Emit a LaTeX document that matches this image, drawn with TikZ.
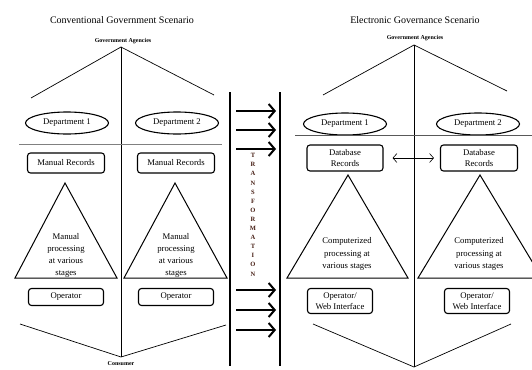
\documentclass[tikz,border=0pt]{standalone}
\usepackage{fontspec}
\setmainfont{Liberation Serif}
\usetikzlibrary{arrows.meta,shapes.geometric}
\definecolor{tbrown}{RGB}{70,30,20}
\begin{document}
\begin{tikzpicture}[x=1pt,y=-1pt,
  line/.style={draw=black, line width=0.7pt},
  dept/.style={draw, ellipse, line width=1.1pt, minimum width=83pt, minimum height=22pt, inner sep=0pt, font=\fontsize{8.7}{10}\selectfont},
  recbox/.style={draw, rounded corners=3pt, line width=1.1pt, inner sep=0pt, align=center, font=\fontsize{8.7}{10}\selectfont},
  tri/.style={draw, line width=1pt},
  tritext/.style={align=center, font=\fontsize{8.7}{12}\selectfont},
  title/.style={font=\fontsize{10}{12}\selectfont},
  agency/.style={font=\bfseries\fontsize{6}{7}\selectfont},
  bigarrow/.style={line width=2.4pt, -{Straight Barb[length=6pt, width=14pt, line width=2pt]}},
]
\useasboundingbox (0,0) rectangle (532,369);
\clip (0,0) rectangle (532,369);

% ---------- Left panel ----------
\node[title] (t1) at (122,20) {Conventional Government Scenario};
\node[agency] (ga1) at (123,41) {Government Agencies};
\coordinate (a1) at (121,47);
\coordinate (a1l) at (31,98);
\coordinate (a1r) at (214,95);
\coordinate (b1) at (121,357);
\coordinate (b1l) at (20,324);
\coordinate (b1r) at (226,325);
\draw[line] (a1l) -- (a1) -- (a1r);
\draw[line] (a1) -- (b1);
\draw[line] (b1l) -- (b1) -- (b1r);
\node[font=\bfseries\fontsize{6}{7}\selectfont] (cons) at (121,364) {Consumer};

\node[dept] (d1) at (67,123) {Department 1};
\node[dept] (d2) at (177,123) {Department 2};
\coordinate (g1l) at (19,144);
\coordinate (g1r) at (222,144);
\draw[gray, line width=1pt] (g1l) -- (g1r);

\node[recbox, minimum width=77pt, minimum height=20pt] (m1) at (66,163) {Manual Records};
\node[recbox, minimum width=77pt, minimum height=20pt] (m2) at (176,163) {Manual Records};

\coordinate (p1a) at (65,183); \coordinate (p1l) at (15,278); \coordinate (p1r) at (117,278);
\coordinate (p2a) at (175,183); \coordinate (p2l) at (124,278); \coordinate (p2r) at (227,278);
\draw[tri] (p1a) -- (p1l) -- (p1r) -- cycle;
\draw[tri] (p2a) -- (p2l) -- (p2r) -- cycle;
\node[tritext] (pt1) at (66,255) {Manual\\processing\\at various\\stages};
\node[tritext] (pt2) at (176,255) {Manual\\processing\\at various\\stages};

\node[recbox, minimum width=75pt, minimum height=17pt] (o1) at (66,297) {Operator};
\node[recbox, minimum width=75pt, minimum height=17pt] (o2) at (176,297) {Operator};

% ---------- Middle ----------
\coordinate (vl1) at (230,92); \coordinate (vl2) at (230,366);
\coordinate (vr1) at (280,92); \coordinate (vr2) at (280,366);
\draw[line width=1.5pt] (vl1) -- (vl2);
\draw[line width=1.5pt] (vr1) -- (vr2);
\foreach \y [count=\i] in {111,130,149,290,310,330}{
  \coordinate (as\i) at (236,\y);
  \coordinate (ae\i) at (276,\y);
  \draw[bigarrow] (as\i) -- (ae\i);
}
\node[text=tbrown, font=\bfseries\fontsize{6.5}{9.1}\selectfont, align=center, anchor=north] (tr) at (253,150)
 {T\\R\\A\\N\\S\\F\\O\\R\\M\\A\\T\\I\\O\\N};

% ---------- Right panel ----------
\node[title] (t2) at (415,20) {Electronic Governance Scenario};
\node[agency] (ga2) at (415,38) {Government Agencies};
\coordinate (a2) at (414,45);
\coordinate (a2l) at (323,95);
\coordinate (a2r) at (507,91);
\coordinate (b2) at (414,367);
\coordinate (b2l) at (313,324);
\coordinate (b2r) at (511,324);
\draw[line] (a2l) -- (a2) -- (a2r);
\draw[line] (a2) -- (b2);
\draw[line] (b2l) -- (b2) -- (b2r);

\node[dept] (e1) at (345,124) {Department 1};
\node[dept] (e2) at (478,124) {Department 2};
\coordinate (g2l) at (295,135);
\coordinate (g2r) at (532,135);
\draw[gray!70!black, line width=0.8pt] (g2l) -- (g2r);

\node[recbox, minimum width=76pt, minimum height=26pt, font=\fontsize{8.7}{11}\selectfont] (r1) at (345,158) {Database\\Records};
\node[recbox, minimum width=77pt, minimum height=26pt, font=\fontsize{8.7}{11}\selectfont] (r2) at (479,158) {Database\\Records};
\draw[line width=0.6pt, {Straight Barb[length=4pt,width=9pt]}-{Straight Barb[length=4pt,width=9pt]}, shorten <=9pt, shorten >=6pt] (r1) -- (r2);

\coordinate (q1a) at (348,175); \coordinate (q1l) at (287,278); \coordinate (q1r) at (408,278);
\coordinate (q2a) at (480,175); \coordinate (q2l) at (418,278); \coordinate (q2r) at (542,278);
\draw[tri] (q1a) -- (q1l) -- (q1r) -- cycle;
\draw[tri] (q2a) -- (q2l) -- (q2r) -- cycle;
\node[tritext, font=\fontsize{8.7}{12.5}\selectfont] (qt1) at (347,254) {Computerized\\processing at\\various stages};
\node[tritext, font=\fontsize{8.7}{12.5}\selectfont] (qt2) at (479,254) {Computerized\\processing at\\various stages};

\node[recbox, minimum width=65pt, minimum height=25pt, font=\fontsize{8.7}{11}\selectfont] (w1) at (340,301) {Operator/\\Web Interface};
\node[recbox, minimum width=65pt, minimum height=25pt, font=\fontsize{8.7}{11}\selectfont] (w2) at (477,301) {Operator/\\Web Interface};
\end{tikzpicture}
\end{document}
